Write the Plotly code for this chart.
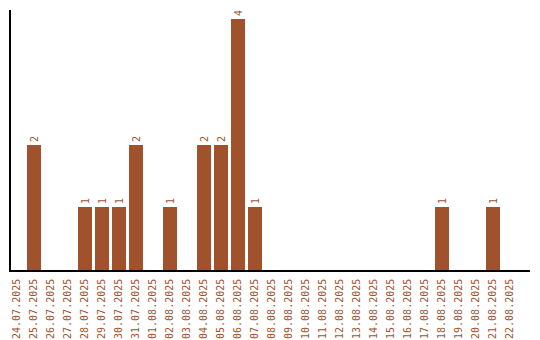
import plotly.graph_objects as go

dates = ["24.07.2025","25.07.2025","26.07.2025","27.07.2025","28.07.2025","29.07.2025",
         "30.07.2025","31.07.2025","01.08.2025","02.08.2025","03.08.2025","04.08.2025",
         "05.08.2025","06.08.2025","07.08.2025","08.08.2025","09.08.2025","10.08.2025",
         "11.08.2025","12.08.2025","13.08.2025","14.08.2025","15.08.2025","16.08.2025",
         "17.08.2025","18.08.2025","19.08.2025","20.08.2025","21.08.2025","22.08.2025"]
counts = [0,2,0,0,1,1,1,2,0,1,0,2,2,4,1,0,0,0,0,0,0,0,0,0,0,1,0,0,1,0]

color = "#A0522D"
labels = [str(c) if c > 0 else "" for c in counts]

fig = go.Figure(go.Bar(
    x=list(range(len(dates))), y=counts, width=0.82,
    marker=dict(color=color, line=dict(width=0)),
    text=labels, textposition="outside", textangle=-90,
    textfont=dict(family="DejaVu Sans Mono", size=10, color=color),
    cliponaxis=False,
))

fig.update_layout(
    width=540, height=340,
    margin=dict(l=11, r=10, t=10, b=70),
    plot_bgcolor="white", paper_bgcolor="white",
    showlegend=False,
    bargap=0,
    xaxis=dict(
        range=[-0.35, 30.18], tickmode="array",
        tickvals=list(range(len(dates))), ticktext=dates,
        tickangle=-90, showgrid=False, zeroline=False, automargin=False,
        showline=True, linecolor="black", linewidth=1.5, ticks="",
        ticklabelstandoff=3,
        tickfont=dict(family="DejaVu Sans Mono", size=10, color=color),
    ),
    yaxis=dict(
        range=[0, 4.15], showgrid=False, zeroline=False, automargin=False,
        showline=True, linecolor="black", linewidth=1.5,
        showticklabels=False, ticks="",
    ),
)

fig.write_html("out.html")
